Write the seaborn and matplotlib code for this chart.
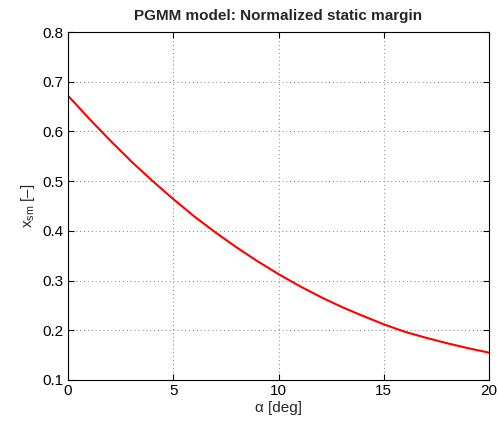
import numpy as np
import pandas as pd
import matplotlib
matplotlib.use("Agg")
import matplotlib.pyplot as plt
import seaborn as sns

# angle of attack [deg] and normalized static margin
alpha_deg = [0, 1, 2, 3, 4, 5, 6, 7, 8, 9, 10,
             11, 12, 13, 14, 15, 16, 17, 18, 19, 20]
x_sm = [0.672, 0.626, 0.582, 0.540, 0.501, 0.464, 0.429, 0.397, 0.367, 0.339, 0.313,
        0.289, 0.267, 0.247, 0.229, 0.212, 0.197, 0.185, 0.174, 0.164, 0.155]
x_ticks = [0, 5, 10, 15, 20]
y_ticks = [0.1, 0.2, 0.3, 0.4, 0.5, 0.6, 0.7, 0.8]

df = pd.DataFrame({"alpha": alpha_deg, "xsm": x_sm})

sns.set_style("ticks")
plt.rcParams['font.family'] = ['Liberation Sans', 'DejaVu Sans']
plt.rcParams['mathtext.fontset'] = 'custom'
plt.rcParams['mathtext.rm'] = 'Liberation Sans'
plt.rcParams['mathtext.it'] = 'Liberation Sans'

fig = plt.figure(figsize=(4.98, 4.23), dpi=100)
ax = fig.add_axes([0.1365, 0.1017, 0.8455, 0.8226])

sns.lineplot(data=df, x="alpha", y="xsm", ax=ax, color="red", linewidth=1.5)

ax.set_xlim(0, 20)
ax.set_ylim(0.1, 0.8)
ax.set_xticks(x_ticks)
ax.set_yticks(y_ticks)
ax.set_xticklabels([str(t) for t in x_ticks])
ax.set_yticklabels(["%.1f" % t for t in y_ticks])
ax.tick_params(direction="in", top=True, right=True, length=4, width=0.8,
               labelsize=11, colors="black", pad=3)
for s in ax.spines.values():
    s.set_visible(True)
    s.set_color("black")
    s.set_linewidth(0.8)
ax.grid(True, linestyle=(0, (1, 3)), color="#808080", linewidth=0.7)

ax.set_xlabel("α [deg]", fontsize=11, labelpad=2)
ax.set_ylabel("x$_{\\rm sm}$ [–]", fontsize=11, labelpad=4)
ax.set_title("PGMM model: Normalized static margin", fontsize=11, fontweight="bold", pad=9)

fig.savefig("out.png", dpi=100)
